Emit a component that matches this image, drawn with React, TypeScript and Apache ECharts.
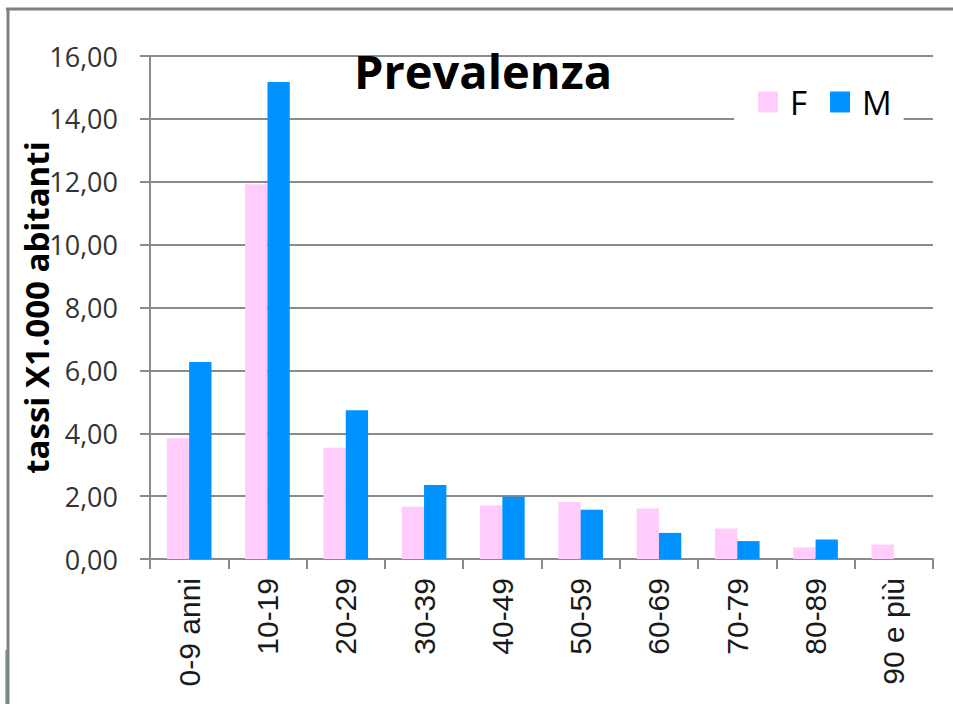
import React, { useEffect, useRef } from "react";
import * as echarts from "echarts";

const categories = ["0-9 anni", "10-19", "20-29", "30-39", "40-49", "50-59", "60-69", "70-79", "80-89", "90 e più"];
const femaleValues = [3.84, 11.92, 3.54, 1.66, 1.7, 1.81, 1.61, 0.97, 0.37, 0.46];
const maleValues = [6.27, 15.17, 4.73, 2.35, 1.98, 1.57, 0.83, 0.57, 0.62, null];
const seriesNames = ["F", "M"];
const yTicks = { min: 0, max: 16, interval: 2 };

const FONT = "'Open Sans', sans-serif";

export default function App() {
  const ref = useRef<HTMLDivElement>(null);
  useEffect(() => {
    if (!ref.current) return;
    const chart = echarts.init(ref.current, null, { renderer: "svg" });
    chart.setOption({
      animation: false,
      backgroundColor: "#ffffff",
      title: {
        text: "Prevalenza",
        left: 354,
        top: 47,
        padding: 0,
        textStyle: { fontFamily: FONT, fontWeight: "bold", fontSize: 47, color: "#000" },
      },
      legend: {
        data: seriesNames,
        left: 734,
        top: 76,
        padding: [8, 12, 8, 24],
        backgroundColor: "#ffffff",
        itemWidth: 20,
        itemHeight: 21,
        itemGap: 23,
        icon: "rect",
        z: 10,
        textStyle: { fontFamily: FONT, fontSize: 33, color: "#000", padding: [0, 0, 0, 7], lineHeight: 36 },
      },
      grid: { left: 150, right: 20, top: 56, bottom: 145, containLabel: false, outerBoundsMode: "none" },
      xAxis: {
        type: "category",
        data: categories,
        axisLine: { lineStyle: { color: "#8a8a8a", width: 2 } },
        axisTick: { show: true, length: 10, lineStyle: { color: "#8a8a8a", width: 2 } },
        axisLabel: {
          rotate: 90,
          margin: 19,
          interval: 0,
          fontFamily: "'Liberation Sans', Arial, sans-serif",
          fontSize: 30,
          color: "#1a1a1a",
        },
      },
      yAxis: {
        type: "value",
        min: yTicks.min,
        max: yTicks.max,
        interval: yTicks.interval,
        name: "tassi X1.000 abitanti",
        nameLocation: "middle",
        nameGap: 97,
        nameMoveOverlap: false,
        nameTextStyle: { fontFamily: FONT, fontWeight: "bold", fontSize: 33, color: "#000" },
        axisLine: { show: true, lineStyle: { color: "#8a8a8a", width: 2 } },
        axisTick: { show: true, length: 10, lineStyle: { color: "#8a8a8a", width: 2 } },
        splitLine: { show: true, lineStyle: { color: "#8a8a8a", width: 2 } },
        axisLabel: {
          margin: 32,
          fontFamily: FONT,
          fontSize: 27,
          color: "#333",
          formatter: (v: number) => v.toFixed(2).replace(".", ","),
        },
      },
      series: [
        {
          name: seriesNames[0],
          type: "bar",
          data: femaleValues,
          itemStyle: { color: "#FFCCFB" },
          barGap: "0%",
          barCategoryGap: "43%",
        },
        {
          name: seriesNames[1],
          type: "bar",
          data: maleValues,
          itemStyle: { color: "#0093FF" },
          barGap: "0%",
          barCategoryGap: "43%",
        },
      ],
      graphic: [
        { type: "line", shape: { x1: 6, y1: 9, x2: 953, y2: 9 }, style: { stroke: "#808080", lineWidth: 3 } },
        { type: "line", shape: { x1: 8, y1: 8, x2: 8, y2: 704 }, style: { stroke: "#808080", lineWidth: 3 } },
        { type: "line", shape: { x1: 6, y1: 650, x2: 6, y2: 704 }, style: { stroke: "#2e7d4f", lineWidth: 1 } },
      ],
    });
    return () => chart.dispose();
  }, []);
  return (
    <div
      ref={ref}
      style={{ position: "fixed", left: 0, top: 0, width: 953, height: 704, background: "#fff" }}
    />
  );
}
